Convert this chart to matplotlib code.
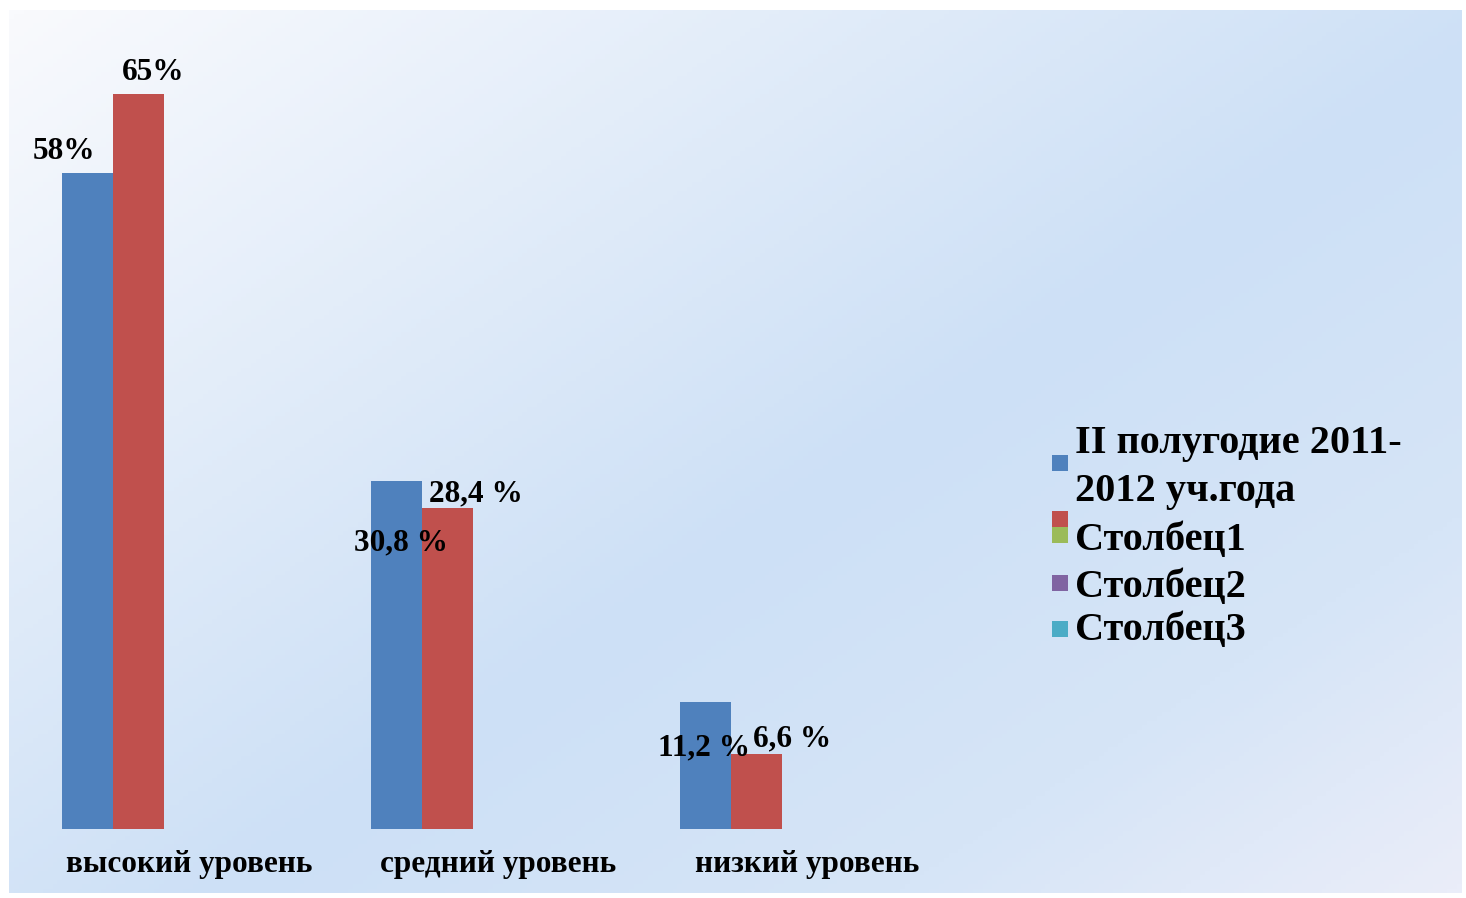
import matplotlib.pyplot as plt
import numpy as np
from matplotlib.colors import LinearSegmentedColormap
from matplotlib.patches import Rectangle

# Data
categories = ['высокий уровень', 'средний уровень', 'низкий уровень']
half_year = [58, 30.8, 11.2]
column0 = [65, 28.4, 6.6]
half_year_labels = ['58%', '30,8 %', '11,2 %']
column0_labels = ['65%', '28,4 %', '6,6 %']
legend_names = ['II полугодие 2011-\n2012 уч.года', '', 'Столбец1', 'Столбец2', 'Столбец3']

colors = ['#4F81BD', '#C0504D', '#9BBB59', '#8064A2', '#4BACC6']

W, H = 1466, 898
plt.rcParams['font.family'] = ['Liberation Serif', 'DejaVu Serif']
plt.rcParams['font.weight'] = 'bold'

fig = plt.figure(figsize=(W / 100, H / 100), dpi=100)
fig.patch.set_facecolor('white')


def px_box(x0, y0, x1, y1):
    # pixel box (top-left origin) -> figure fraction rect
    return [x0 / W, 1 - y1 / H, (x1 - x0) / W, (y1 - y0) / H]


# Gradient background
bg = fig.add_axes(px_box(9, 10, 1462, 893))
bg.set_axis_off()
gx, gy = np.meshgrid(np.linspace(0, 1, 300), np.linspace(0, 1, 200))
t = (gx * 1.1 + gy) / 2.1
cmap = LinearSegmentedColormap.from_list(
    'bg', [(0, '#F9FAFD'), (0.55, '#CDE0F6'), (0.8, '#D6E5F7'), (1, '#EAEDF9')])
bg.imshow(t, cmap=cmap, aspect='auto', extent=[0, 1, 1, 0], vmin=0, vmax=1)
bg.set_xlim(0, 1)
bg.set_ylim(1, 0)

# Chart
ax = fig.add_axes(px_box(35, 37, 962, 829))
ax.patch.set_alpha(0)
n_series = 5
w = 1 / (n_series + 1.05)
x = np.arange(len(categories))
b1 = ax.bar(x - 2 * w, half_year, w, color=colors[0], linewidth=0)
b2 = ax.bar(x - w, column0, w, color=colors[1], linewidth=0)
ax.set_xlim(-0.5, 2.5)
ax.set_ylim(0, 70)
for s in ax.spines.values():
    s.set_visible(False)
ax.set_yticks([])
ax.set_xticks(x, categories, fontsize=22.5, fontweight='bold')
ax.tick_params(axis='x', length=0, pad=15)

# data labels, offsets in pixels from bar top centre
off1 = [(-23, 21), (5, -62), (-1, -46)]
off2 = [(15, 21), (28, 14), (36, 15)]
for bars, labels, offs in [(b1, half_year_labels, off1), (b2, column0_labels, off2)]:
    for bar, lab, (dx, dy) in zip(bars, labels, offs):
        ax.annotate(lab, (bar.get_x() + bar.get_width() / 2, bar.get_height()),
                    xytext=(dx, dy), textcoords='offset pixels',
                    ha='center', va='center', fontsize=22.5, fontweight='bold')

# Legend drawn by hand to mimic the Excel layout
marker_tops = [455, 511, 527, 575, 621]
for c, top in zip(colors, marker_tops):
    fig.add_artist(Rectangle((1052 / W, 1 - (top + 16) / H), 16 / W, 16 / H,
                             transform=fig.transFigure, color=c, linewidth=0))
text_rows = [('II полугодие 2011-', 453), ('2012 уч.года', 501),
             (legend_names[2], 550), (legend_names[3], 597), (legend_names[4], 640)]
for txt, base in text_rows:
    fig.text(1075 / W, 1 - base / H, txt, fontsize=29, fontweight='bold',
             va='baseline', ha='left')

fig.savefig('out.png', dpi=100)
